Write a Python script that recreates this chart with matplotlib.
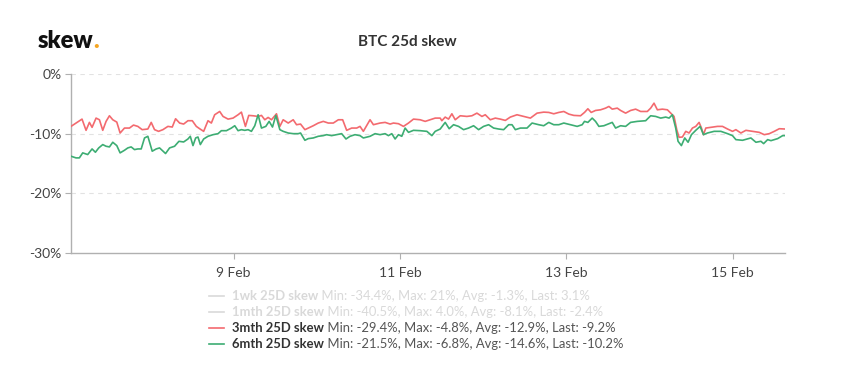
import datetime as dt
import matplotlib
matplotlib.use("Agg")
import matplotlib.pyplot as plt
import matplotlib.dates as mdates
from matplotlib.lines import Line2D
from matplotlib.ticker import FuncFormatter, FixedLocator

plt.rcParams['font.family'] = ['Lato', 'DejaVu Sans']

# ---- data (hours after 7 Feb 00:00, skew in %) ----
red_hours = [1.06, 2.51, 4.24, 5.40, 6.37, 7.14, 8.29, 9.26, 10.22, 11.18, 12.15, 13.11, 14.27, 15.23,
             16.49, 17.93, 19.09, 20.34, 21.59, 23.23, 24.20, 25.16, 26.32, 27.57, 29.02, 30.27, 31.23,
             32.39, 33.55, 34.80, 36.05, 37.21, 38.17, 39.33, 40.58, 41.55, 42.51, 43.96, 44.92, 46.37,
             47.81, 49.26, 50.22, 51.38, 52.34, 53.60, 55.04, 56.01, 56.97, 57.93, 58.90, 60.34, 61.31,
             62.27, 63.72, 65.16, 66.13, 67.28, 68.54, 69.50, 70.95, 72.39, 73.84, 75.28, 76.73, 78.18,
             79.43, 80.59, 82.03, 83.48, 84.44, 85.40, 87.33, 88.30, 90.22, 91.67, 93.12, 94.08, 95.53,
             96.97, 98.42, 99.86, 101.79, 103.24, 104.68, 106.13, 107.57,
             108.04, 109.01, 109.97, 110.94, 111.90, 113.35, 115.27, 116.72, 118.16, 119.61, 120.57,
             122.02, 123.47, 124.91, 126.36, 127.80, 129.73, 131.66, 133.59, 135.51, 137.44, 138.89,
             140.33, 141.78, 143.23, 144.67, 146.12, 148.05, 149.20, 150.17, 151.13, 152.38, 153.83,
             155.27, 156.24, 157.20, 158.65, 159.61, 161.06, 162.50, 163.95, 165.40, 167.32, 168.29,
             169.25, 170.22, 171.66, 173.11, 174.26, 175.03, 175.81, 176.48, 177.44, 178.41, 179.37,
             180.34, 181.30, 182.26, 182.94, 183.52, 184.19, 185.64, 187.57, 189.01, 190.46, 191.90,
             192.87, 194.31, 195.76, 197.69, 199.61, 201.06, 202.51, 203.95, 205.40, 207.04]
red_skew = [-8.78, -8.22, -7.56, -9.44, -8.11, -8.94, -7.39, -7.67, -9.44, -7.94, -7.00, -7.67, -8.06, -9.89,
            -9.06, -9.06, -8.56, -8.78, -9.33, -9.22, -8.11, -9.33, -9.61, -9.33, -8.78, -8.89, -7.50,
            -8.22, -8.39, -7.83, -7.83, -8.78, -9.17, -9.61, -7.83, -8.22, -6.83, -6.28, -7.11, -7.56,
            -7.39, -6.83, -6.39, -8.78, -6.94, -7.00, -7.11, -6.94, -7.67, -7.28, -7.67, -6.67, -8.78,
            -7.67, -8.22, -7.67, -8.50, -8.39, -9.33, -9.06, -8.67, -8.22, -7.94, -8.22, -8.22, -7.67,
            -7.67, -9.44, -9.06, -9.06, -8.78, -9.61, -7.67, -8.50, -8.22, -8.11, -8.39, -8.22, -8.33,
            -8.78, -8.22, -7.56, -7.67, -7.94, -7.67, -7.39, -7.39,
            -7.83, -7.22, -7.56, -6.67, -7.67, -7.00, -7.11, -7.00, -6.56, -7.11, -6.83,
            -7.67, -7.39, -7.56, -7.78, -7.22, -6.83, -7.11, -7.39, -6.56, -6.39, -6.44,
            -6.67, -6.44, -6.28, -6.72, -6.94, -7.00, -6.44, -5.83, -6.44, -6.11, -6.00,
            -5.72, -5.44, -5.89, -5.72, -6.11, -6.56, -6.11, -5.89, -6.28, -6.28, -5.72,
            -4.89, -6.00, -5.89, -6.00, -6.67, -7.11, -9.33, -10.61, -10.56, -9.61, -9.89,
            -9.06, -8.78, -8.11, -9.06, -10.17, -9.06, -8.94, -8.78, -8.78, -9.22, -9.61,
            -9.33, -9.89, -9.44, -9.61, -9.78, -10.17, -10.00, -9.61, -9.17, -9.22]

green_hours = [1.06, 2.51, 3.47, 4.44, 5.88, 7.14, 8.10, 9.06, 10.22, 11.18, 12.15, 13.11, 14.27, 15.23,
               16.49, 17.45, 18.41, 19.38, 20.34, 21.31, 22.27, 23.23, 24.49, 25.64, 26.61, 28.34, 29.50,
               30.94, 32.20, 33.55, 34.80, 35.47, 36.25, 37.02, 37.69, 38.37, 39.33, 40.58, 42.03, 43.48,
               44.44, 45.89, 47.33, 48.30, 49.26, 50.22, 51.19, 52.15, 53.11, 54.08, 55.04, 56.01, 57.26,
               58.22, 59.19, 60.15, 61.31, 62.27, 63.72, 65.16, 66.61, 67.28, 68.54, 69.50, 70.95, 72.39,
               73.84, 74.80, 76.25, 77.70, 79.14, 80.39, 81.55, 82.99, 84.44, 85.40, 87.33, 88.78, 90.22,
               91.67, 92.63, 93.60, 94.56, 95.53, 96.49, 97.45, 98.42, 99.86, 101.79, 103.72, 105.17,
               106.13, 107.57,
               109.01, 110.16, 111.42, 112.86, 114.31, 115.75, 117.20, 118.65, 120.09, 121.54, 122.98,
               124.43, 125.88, 127.32, 128.29, 129.25, 130.70, 132.62, 134.07, 136.00, 137.44, 138.89,
               140.33, 141.78, 143.23, 145.15, 147.08, 148.53, 149.20, 150.17, 151.42, 152.38, 153.35,
               154.79, 157.20, 158.17, 159.61, 161.06, 162.50, 164.43, 166.84, 168.29, 169.73, 171.18,
               172.63, 173.59, 174.55, 175.51, 176.19, 177.15, 178.12, 179.08, 180.05, 181.30, 182.55,
               183.52, 184.67, 186.60, 188.53, 190.46, 191.90, 192.87, 194.79, 197.20, 198.65, 200.10,
               200.87, 202.03, 202.99, 204.92, 206.36, 207.04]
green_skew = [-13.78, -14.06, -14.06, -13.22, -13.50, -12.56, -13.11, -12.39, -11.83, -12.11, -12.22, -11.44,
              -12.00, -13.22, -12.78, -12.39, -12.22, -12.67, -12.56, -12.56, -10.72, -10.44, -12.94, -12.56,
              -12.39, -13.33, -12.39, -12.11, -11.28, -11.39, -10.89, -10.44, -12.00, -10.72, -10.56, -11.83,
              -10.89, -10.44, -10.17, -10.00, -9.50, -9.50, -9.06, -8.67, -9.50, -9.33, -9.44, -9.33, -9.61,
              -8.67, -6.83, -9.06, -8.78, -7.94, -8.89, -6.94, -9.33, -9.61, -9.89, -10.00, -10.00, -9.89,
              -11.11, -10.83, -10.72, -10.44, -10.33, -10.17, -10.33, -10.17, -10.00, -10.89, -10.44, -10.17,
              -10.33, -10.72, -10.44, -10.00, -10.17, -10.00, -10.33, -10.00, -10.89, -10.17, -10.44, -9.06,
              -9.78, -9.44, -9.50, -9.61, -10.33, -9.61, -9.22,
              -8.11, -9.17, -8.50, -8.78, -9.33, -9.06, -8.67, -9.33, -8.78, -8.50, -9.06,
              -9.22, -9.33, -8.50, -8.50, -9.33, -9.06, -9.06, -8.22, -8.50, -8.67, -8.11,
              -8.50, -8.50, -8.22, -8.50, -8.78, -8.50, -7.94, -8.11, -7.39, -7.94, -8.78,
              -8.67, -8.11, -9.06, -8.67, -8.78, -8.11, -7.94, -7.83, -7.00, -7.11, -7.39,
              -7.22, -7.39, -6.83, -9.06, -11.28, -12.00, -10.72, -11.44, -10.17, -9.44, -8.78,
              -10.17, -9.89, -9.61, -9.61, -10.00, -10.33, -11.00, -11.11, -10.72, -11.44, -11.28,
              -11.67, -11.00, -11.17, -10.83, -10.33, -10.33]

y_ticks = [0, -10, -20, -30]
x_tick_days = [9, 11, 13, 15]

legend_rows = [
    ("1wk 25D skew", "Min: -34.4%, Max: 21%, Avg: -1.3%, Last: 3.1%", "#d9d9d9", True),
    ("1mth 25D skew", "Min: -40.5%, Max: 4.0%, Avg: -8.1%, Last: -2.4%", "#d9d9d9", True),
    ("3mth 25D skew", "Min: -29.4%, Max: -4.8%, Avg: -12.9%, Last: -9.2%", "#f36a6f", False),
    ("6mth 25D skew", "Min: -21.5%, Max: -6.8%, Avg: -14.6%, Last: -10.2%", "#3dad73", False),
]

RED = "#f36a6f"
GREEN = "#3dad73"

base = dt.datetime(2020, 2, 7, 0, 0)
red_t = [base + dt.timedelta(hours=h) for h in red_hours]
green_t = [base + dt.timedelta(hours=h) for h in green_hours]

fig = plt.figure(figsize=(8.54, 3.84), dpi=100)
ax = fig.add_axes([71 / 854, 1 - 253 / 384, (785 - 71) / 854, (253 - 74) / 384])

ax.plot(red_t, red_skew, color=RED, lw=1.2, zorder=3)
ax.plot(green_t, green_skew, color=GREEN, lw=1.2, zorder=3)

ax.set_ylim(-30, 0)
ax.set_xlim(base + dt.timedelta(hours=red_hours[0]), base + dt.timedelta(hours=red_hours[-1]))
ax.yaxis.set_major_locator(FixedLocator(y_ticks))
ax.yaxis.set_major_formatter(FuncFormatter(lambda v, p: f"{int(v)}%"))
ax.xaxis.set_major_locator(FixedLocator([mdates.date2num(dt.datetime(2020, 2, d)) for d in x_tick_days]))
ax.xaxis.set_major_formatter(mdates.DateFormatter("%-d %b"))

for y in y_ticks[:-1]:
    ax.axhline(y, color="#e2e2e2", lw=0.8, ls=(0, (4, 4)), zorder=1)

for s in ["top", "right"]:
    ax.spines[s].set_visible(False)
for s in ["left", "bottom"]:
    ax.spines[s].set_color("#b0b0b0")
    ax.spines[s].set_linewidth(1.0)
ax.tick_params(axis="both", colors="#b0b0b0", labelcolor="#444444", labelsize=10, length=4, width=0.8)
ax.tick_params(axis="x", pad=6)
ax.tick_params(axis="y", pad=3)

# logo and title
logo = fig.text(38 / 854, 1 - 41 / 384, "skew", fontsize=17, fontweight="heavy", color="#111111",
                va="center", ha="left")
fig.canvas.draw()
ax.annotate(".", xy=(1, 0), xycoords=logo, fontsize=17, fontweight="heavy", color="#f5a623",
            va="bottom", ha="left")
fig.text(407 / 854, 1 - 42 / 384, "BTC 25d skew", fontsize=11, fontweight="bold", color="#333333",
         ha="center", va="center")

# legend
row_y = [296, 312, 328, 344]
for (name, stats, color, faded), yp in zip(legend_rows, row_y):
    yf = 1 - yp / 384
    fig.add_artist(Line2D([209 / 854, 224 / 854], [yf, yf], color=color, lw=1.2))
    name_col = "#d9d9d9" if faded else "#333333"
    stat_col = "#d9d9d9" if faded else "#555555"
    t = fig.text(232 / 854, yf, name, fontsize=9.4, fontweight="bold", color=name_col,
                 ha="left", va="center")
    fig.canvas.draw()
    ax.annotate(" " + stats, xy=(1, 0.5), xycoords=t, fontsize=9.4, color=stat_col,
                ha="left", va="center")

fig.savefig("out.png", dpi=100)
